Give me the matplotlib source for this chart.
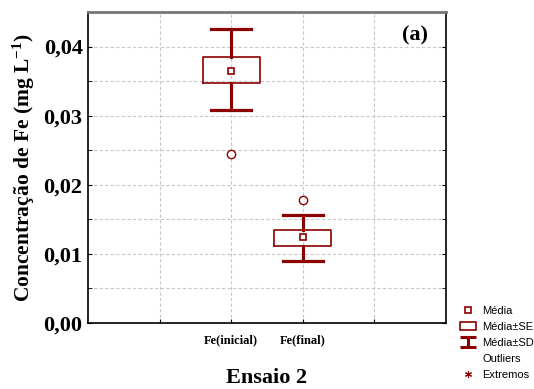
import matplotlib
matplotlib.use('Agg')
import matplotlib.pyplot as plt
from matplotlib.lines import Line2D
from matplotlib.patches import Rectangle
from matplotlib.path import Path

# data
categories = ['Fe(inicial)', 'Fe(final)']
media = [0.0365, 0.0124]
se_lo = [0.0348, 0.0112]
se_hi = [0.0385, 0.0134]
sd_lo = [0.0308, 0.0090]
sd_hi = [0.0425, 0.0156]
outliers = [[0.0245], [0.0178]]
positions = [2, 3]

dark_red = '#8B0000'

plt.rcParams['mathtext.fontset'] = 'custom'
plt.rcParams['mathtext.rm'] = 'Liberation Serif:bold'
plt.rcParams['mathtext.it'] = 'Liberation Serif:bold'
plt.rcParams['mathtext.bf'] = 'Liberation Serif:bold'

fig = plt.figure(figsize=(5.34, 3.89), dpi=100)
ax = fig.add_axes([0.165, 0.17, 0.67, 0.799])

stats = []
for i in range(len(categories)):
    stats.append({
        'med': media[i], 'mean': media[i],
        'q1': se_lo[i], 'q3': se_hi[i],
        'whislo': sd_lo[i], 'whishi': sd_hi[i],
        'fliers': outliers[i], 'label': categories[i],
    })

ax.bxp(stats, positions=positions, widths=0.8, showmeans=True,
       boxprops=dict(color=dark_red, linewidth=1.2),
       whiskerprops=dict(color=dark_red, linewidth=2.2),
       capprops=dict(color=dark_red, linewidth=2.3),
       capwidths=0.56,
       medianprops=dict(linewidth=0),
       meanprops=dict(marker='s', markersize=4, markerfacecolor='white',
                      markeredgecolor=dark_red, markeredgewidth=1.2),
       flierprops=dict(marker='o', markersize=6, markerfacecolor='white',
                       markeredgecolor=dark_red, markeredgewidth=1.0),
       zorder=3)

ax.set_xlim(0, 5)
ax.set_ylim(0, 0.045)
ax.set_xticks([1, 2, 3, 4])
ax.set_xticklabels(['', categories[0], categories[1], ''],
                   fontfamily='Liberation Serif', fontweight='bold', fontsize=9)
ax.set_yticks([0, 0.01, 0.02, 0.03, 0.04])
ax.set_yticklabels(['0,00', '0,01', '0,02', '0,03', '0,04'],
                   fontfamily='Liberation Serif', fontweight='bold', fontsize=16)
ax.set_yticks([0.005, 0.015, 0.025, 0.035], minor=True)
ax.tick_params(axis='both', which='both', direction='in', length=3,
               right=True, top=False, color='black')
ax.tick_params(axis='x', pad=8)
ax.tick_params(axis='y', pad=4)
ax.grid(True, which='both', linestyle=(0, (3, 2)), color='#c8c8c8', linewidth=0.8)
ax.set_axisbelow(True)

for s in ['left', 'bottom', 'right']:
    ax.spines[s].set_linewidth(1.2)
ax.spines['top'].set_color('#777777')
ax.spines['top'].set_linewidth(2)

ax.set_ylabel('Concentração de Fe (mg L$^{-1}$)', fontfamily='Liberation Serif',
              fontweight='bold', fontsize=15.5, labelpad=5)
fig.text(0.5, 1 - 378 / 389, 'Ensaio 2', ha='center', va='center',
         fontfamily='Liberation Serif', fontweight='bold', fontsize=16)
ax.text(0.95, 0.925, '(a)', transform=ax.transAxes, ha='right', va='center',
        fontfamily='Liberation Serif', fontweight='bold', fontsize=16)

# legend symbols
sd_path = Path([(-1, 0.65), (1, 0.65), (0, 0.65), (0, -0.65), (-1, -0.65), (1, -0.65)],
               [Path.MOVETO, Path.LINETO, Path.MOVETO, Path.LINETO,
                Path.MOVETO, Path.LINETO])
handles = [
    Line2D([], [], linestyle='none', marker='s', markersize=4,
           markerfacecolor='white', markeredgecolor=dark_red, markeredgewidth=1.2),
    Rectangle((0, 0), 1, 1, facecolor='white', edgecolor=dark_red, linewidth=1.2),
    Line2D([], [], linestyle='none', marker=sd_path, markersize=12,
           markeredgecolor=dark_red, markeredgewidth=2.2),
    Line2D([], [], linestyle='none'),
    Line2D([], [], linestyle='none', marker=(6, 2, 0), markersize=5,
           markeredgecolor=dark_red, markeredgewidth=0.8),
]
labels = ['Média', 'Média±SE', 'Média±SD', 'Outliers', 'Extremos']
fig.legend(handles, labels, loc='upper left', bbox_to_anchor=(0.861, 0.214),
           frameon=False, borderpad=0, borderaxespad=0, handlelength=1.45,
           handletextpad=0.6, labelspacing=0.55,
           prop={'family': 'Liberation Sans', 'size': 8})

fig.savefig('out.png', dpi=100)
